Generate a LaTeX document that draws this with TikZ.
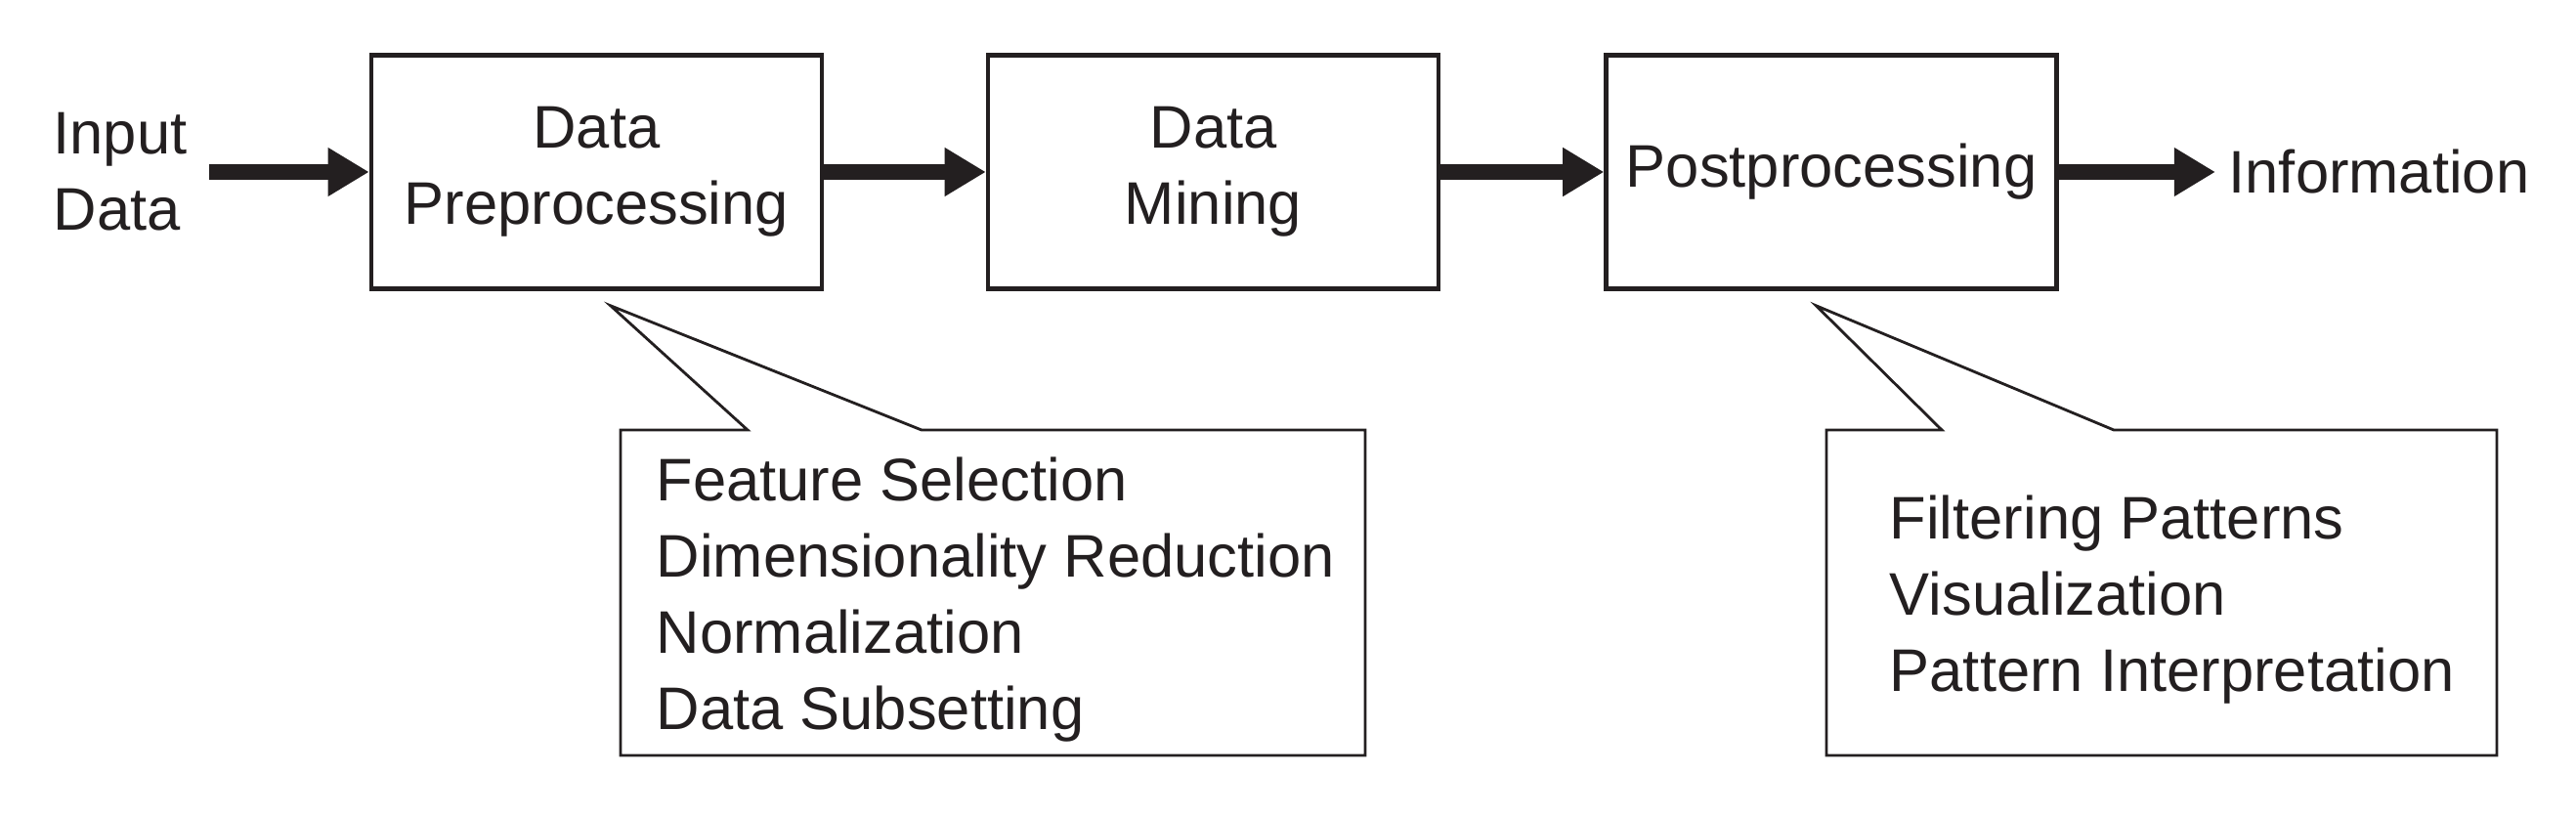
\documentclass[tikz,border=0pt]{standalone}
\usepackage{fontspec}
\setmainfont{Liberation Sans}
\usepackage{xcolor}
\usetikzlibrary{arrows.meta}
\usetikzlibrary{positioning}
\usetikzlibrary{calc}
\definecolor{ink}{HTML}{231F20}
\newcommand{\bodyfont}{\fontsize{17.5}{22.2}\selectfont}

\begin{document}
\begin{tikzpicture}[
		stage/.style={draw=ink, line width=1.3pt, minimum width=4.61cm, minimum height=2.39cm, align=center, text=ink, font=\bodyfont},
		plaintext/.style={inner sep=0pt, align=left, text=ink, font=\bodyfont},
		flow/.style={draw=ink, line width=4.5pt, -{Triangle[length=12pt,width=13.4pt]}},
		notearea/.style={minimum height=3.33cm, inner sep=0pt, outer sep=0pt},
		noteline/.style={draw=ink, line width=0.8pt}
	]
				\useasboundingbox (0,0) rectangle (26.36,8.34);
				% draw stages
				\node[stage] (prep) at (6.105,6.58) {Data\\Preprocessing};
				\node[stage, right=1.655cm of prep] (mine) {Data\\Mining};
				\node[stage, right=1.67cm of mine] (post) {Postprocessing};
				\node[plaintext, anchor=west] (input) at (0.54,6.58) {Input\\Data};
				\node[plaintext, right=1.6cm of post, inner sep=0.13cm] (info) {Information};
				% add arrows
				\draw[flow, shorten <=0.22cm] (input.east) -- (prep.west);
				\draw[flow] (prep) -- (mine);
				\draw[flow] (mine) -- (post);
				\draw[flow] (post.east) -- (info.west);
				% draw callouts
				\node[notearea, minimum width=7.62cm] (prepnote) at (10.16,2.275) {};
				\node[plaintext, anchor=west] (preplist) at ($(prepnote.west)+(0.36,-0.07)$) {Feature Selection\\Dimensionality Reduction\\Normalization\\Data Subsetting};
				\coordinate (preptip) at ($(prep.south west)+(2.47,-0.15)$);
				\draw[noteline] (prepnote.north west) -- ++(1.30,0) -- (preptip) -- ($(prepnote.north west)+(3.08,0)$) -- (prepnote.north east) -- (prepnote.south east) -- (prepnote.south west) -- cycle;
				
				\node[notearea, minimum width=6.86cm] (postnote) at (22.12,2.275) {};
				\node[plaintext, anchor=west] (postlist) at ($(postnote.west)+(0.64,-0.07)$) {Filtering Patterns\\Visualization\\Pattern Interpretation};
				\coordinate (posttip) at ($(post.south west)+(2.17,-0.15)$);
				\draw[noteline] (postnote.north west) -- ++(1.18,0) -- (posttip) -- ($(postnote.north west)+(2.94,0)$) -- (postnote.north east) -- (postnote.south east) -- (postnote.south west) -- cycle;
			\end{tikzpicture}
\end{document}
